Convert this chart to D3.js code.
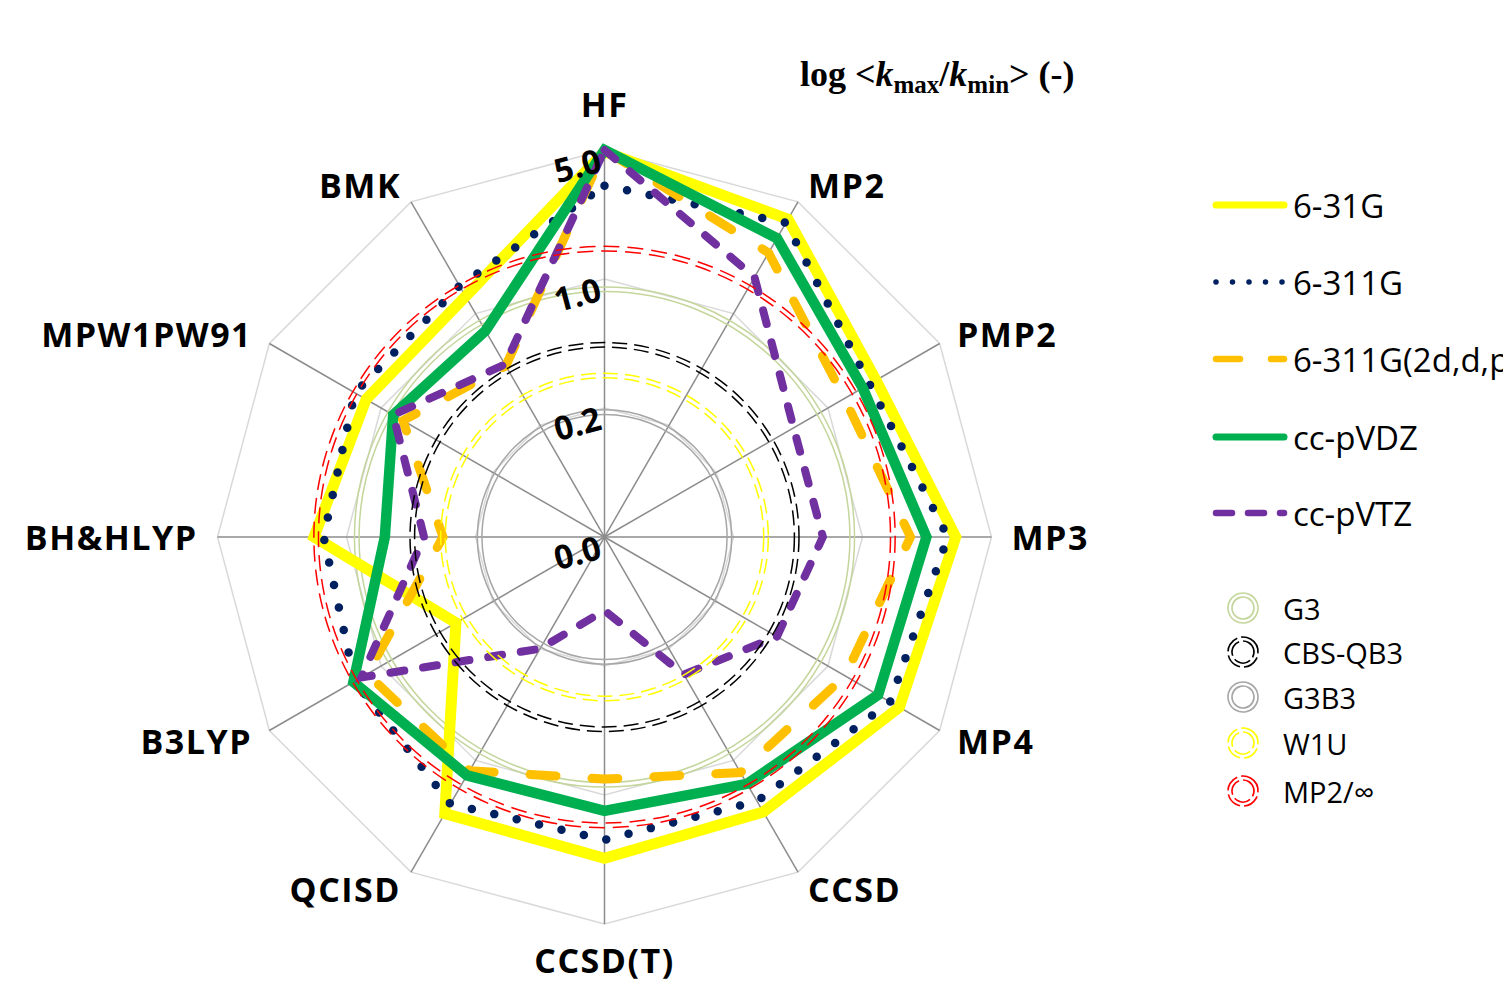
<!DOCTYPE html>
<html>
<head>
<meta charset="utf-8">
<script src="https://cdn.jsdelivr.net/npm/d3@7"></script>
<style>
  body { margin: 0; background: #fff; }
  svg { display: block; }
</style>
</head>
<body>
<svg id="chart" width="1503" height="983"></svg>
<script>
// axes of the radar, clockwise from the top
var axes = ['HF', 'MP2', 'PMP2', 'MP3', 'MP4', 'CCSD', 'CCSD(T)', 'QCISD', 'B3LYP', 'BH&HLYP', 'MPW1PW91', 'BMK']

// log <kmax/kmin> per basis set
var s631G    = [4.9, 3.9, 2.0, 3.2, 2.8, 2.1, 2.2, 2.15, 0.34, 1.5, 1.24, 1.28]
var s6311G   = [3.2, 3.7, 1.82, 2.9, 2.45, 1.8, 1.75, 1.87, 1.46, 1.33, 1.46, 1.49]
var s6311Gp  = [5.0, 2.4, 1.27, 1.82, 1.28, 1.19, 0.82, 1.16, 1.22, 0.30, 0.73, 0.47]
var sccpVDZ  = [5.0, 2.96, 1.65, 2.22, 2.06, 1.40, 1.22, 1.24, 1.49, 0.62, 0.84, 0.78]
var sccpVTZ  = [5.0, 1.69, 0.61, 0.61, 0.48, 0.29, 0.10, 0.20, 1.33, 0.38, 0.84, 0.48]
var seriesNames = ['6-31G', '6-311G', '6-311G(2d,d,p)', 'cc-pVDZ', 'cc-pVTZ']

// composite reference methods (drawn as circles)
var refNames  = ['G3', 'CBS-QB3', 'G3B3', 'W1U', 'MP2/\u221e']
var refValues = [0.88, 0.44, 0.19, 0.30, 1.46]

// radial ticks (log axis, base 5; 0.04 prints as 0.0)
var tickValues = [0.04, 0.2, 1, 5]

var svg = d3.select('#chart')
var cx = 604.5, cy = 537, R = 387
var r = d3.scaleLog().base(5).domain([0.04, 5]).range([0, R])
var step = 2 * Math.PI / axes.length
var fmt = d3.format('.1f')

function pt(i, rad) {
  var a = i * step
  return [cx + rad * Math.sin(a), cy - rad * Math.cos(a)]
}

var g = svg.append('g')

// grid rings
tickValues.slice(1).forEach(function(t) {
  g.append('polygon')
    .attr('points', axes.map(function(d, i) { return pt(i, r(t)).join(',') }).join(' '))
    .attr('fill', 'none')
    .attr('stroke', '#d9d9d9')
    .attr('stroke-width', 1.5)
})

// spokes
axes.forEach(function(d, i) {
  var p = pt(i, R)
  g.append('line')
    .attr('x1', cx).attr('y1', cy).attr('x2', p[0]).attr('y2', p[1])
    .attr('stroke', '#8c8c8c').attr('stroke-width', 1.5)
})

// reference circles
var refStyle = {
  'G3':        { color: '#c3d69b', dash: null },
  'CBS-QB3':   { color: '#000000', dash: '15 7' },
  'G3B3':      { color: '#a6a6a6', dash: null },
  'W1U':       { color: '#ffff00', dash: '15 7' },
  'MP2/\u221e': { color: '#ff0000', dash: '16 8' }
}

function refCircle(sel, name, rad, w, gap) {
  var st = refStyle[name]
  ;[-gap, gap].forEach(function(o) {
    sel.append('circle')
      .attr('cx', 0).attr('cy', 0).attr('r', rad + o)
      .attr('fill', 'none')
      .attr('stroke', st.color)
      .attr('stroke-width', w)
      .attr('stroke-dasharray', st.dash)
  })
}

var under = g.append('g').attr('transform', 'translate(' + cx + ',' + cy + ')')
var over
;['G3', 'G3B3'].forEach(function(n) {
  refCircle(under, n, r(refValues[refNames.indexOf(n)]), 1.5, 2.3)
})

// basis-set series
var seriesData = [s631G, s6311G, s6311Gp, sccpVDZ, sccpVTZ]
var seriesStyle = [
  { color: '#ffff00', width: 11, dash: null, cap: 'butt' },
  { color: '#002060', width: 8.5, dash: '0 23', cap: 'round' },
  { color: '#ffc000', width: 9, dash: '26 36', cap: 'round' },
  { color: '#00b050', width: 10.5, dash: null, cap: 'butt' },
  { color: '#7030a0', width: 8, dash: '14 19', cap: 'round' }
]

var radial = d3.lineRadial()
  .angle(function(d, i) { return i * step })
  .radius(function(d) { return r(d) })
  .curve(d3.curveLinearClosed)

var sg = g.append('g').attr('transform', 'translate(' + cx + ',' + cy + ')')
seriesData.forEach(function(vals, k) {
  var st = seriesStyle[k]
  sg.append('path')
    .attr('d', radial(vals))
    .attr('fill', 'none')
    .attr('stroke', st.color)
    .attr('stroke-width', st.width)
    .attr('stroke-dasharray', st.dash)
    .attr('stroke-linecap', st.cap)
    .attr('stroke-linejoin', 'miter')
})

over = g.append('g').attr('transform', 'translate(' + cx + ',' + cy + ')')
;['CBS-QB3', 'W1U', 'MP2/\u221e'].forEach(function(n) {
  refCircle(over, n, r(refValues[refNames.indexOf(n)]), 1.5, 2.3)
})

// radial tick labels
tickValues.forEach(function(t) {
  var y = cy - r(t) + 9
  g.append('text')
    .attr('transform', 'translate(600,' + y + ') rotate(-15)')
    .attr('text-anchor', 'end')
    .attr('dominant-baseline', 'central')
    .style('font-family', '"Open Sans", sans-serif')
    .style('font-weight', 700)
    .style('font-size', '33px')
    .text(fmt(t))
})

// axis labels
axes.forEach(function(d, i) {
  var a = i * step
  var s = Math.sin(a), c = Math.cos(a)
  var vertical = Math.abs(s) < 0.1
  var p = pt(i, R + (vertical ? (c > 0 ? 46 : 36) : 20))
  g.append('text')
    .attr('x', p[0]).attr('y', p[1])
    .attr('text-anchor', vertical ? 'middle' : (s > 0 ? 'start' : 'end'))
    .attr('dominant-baseline', 'central')
    .style('font-family', '"Open Sans", sans-serif')
    .style('font-weight', 700)
    .style('font-size', '34px')
    .style('letter-spacing', '1.5px')
    .text(d)
})

// title
var title = svg.append('text')
  .attr('x', 800).attr('y', 86)
  .style('font-family', '"Liberation Serif", "Times New Roman", serif')
  .style('font-weight', 700)
  .style('font-size', '36px')
title.append('tspan').text('log <')
title.append('tspan').style('font-style', 'italic').text('k')
title.append('tspan').attr('dy', 7).style('font-size', '25px').text('max')
title.append('tspan').attr('dy', -7).text('/')
title.append('tspan').style('font-style', 'italic').text('k')
title.append('tspan').attr('dy', 7).style('font-size', '25px').text('min')
title.append('tspan').attr('dy', -7).text('> (-)')

// legend: series
var legYs = [205, 282, 359, 437, 513]
var legStyle = [
  { width: 7, dash: null, cap: 'round' },
  { width: 5.5, dash: '0 16.5', cap: 'round' },
  { width: 6.5, dash: '24 31', cap: 'round' },
  { width: 7, dash: null, cap: 'round' },
  { width: 6.5, dash: '16 16', cap: 'round' }
]
var leg = svg.append('g')
seriesNames.forEach(function(n, k) {
  var y = legYs[k]
  leg.append('line')
    .attr('x1', 1216).attr('x2', 1284).attr('y1', y).attr('y2', y)
    .attr('stroke', seriesStyle[k].color)
    .attr('stroke-width', legStyle[k].width)
    .attr('stroke-dasharray', legStyle[k].dash)
    .attr('stroke-linecap', legStyle[k].cap)
  leg.append('text')
    .attr('x', 1293).attr('y', y)
    .attr('dominant-baseline', 'central')
    .style('font-family', '"Open Sans", sans-serif')
    .style('font-size', '33px')
    .text(n)
})

// legend: reference methods
var refYs = [608, 652, 697, 743, 791]
var refLegDash = { 'CBS-QB3': '17 4', 'W1U': '17 4', 'MP2/\u221e': '17 4' }
refNames.forEach(function(n, k) {
  var y = refYs[k]
  var cg = leg.append('g').attr('transform', 'translate(1243,' + y + ')')
  ;[11, 15].forEach(function(rad) {
    cg.append('circle')
      .attr('r', rad)
      .attr('fill', 'none')
      .attr('stroke', refStyle[n].color)
      .attr('stroke-width', 1.6)
      .attr('stroke-dasharray', refLegDash[n] || null)
      .attr('transform', 'rotate(-60)')
  })
  leg.append('text')
    .attr('x', 1283).attr('y', y)
    .attr('dominant-baseline', 'central')
    .style('font-family', '"Open Sans", sans-serif')
    .style('font-size', '29px')
    .text(n)
})
</script>
</body>
</html>
